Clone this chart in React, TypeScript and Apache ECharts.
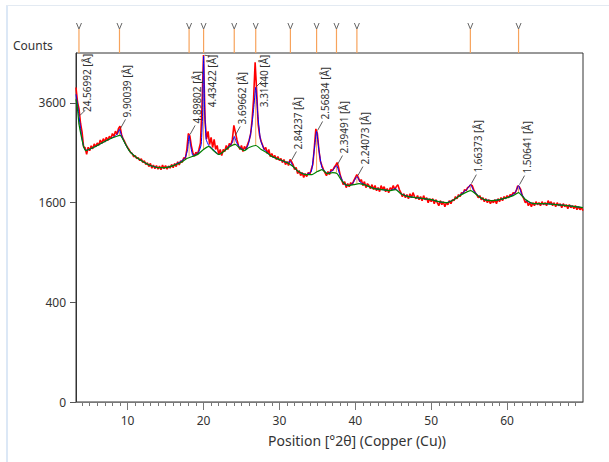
import React, { useEffect, useRef } from "react";
import * as echarts from "echarts";

// Observed counts (red), sampled every 0.2 °2θ starting at 3.2
const obsStart = 3.2;
const obsStep = 0.2;
const obsCounts = [
  3980, 3620, 3450, 3120, 2930, 2620, 2600, 2470, 2610, 2540,
  2640, 2580, 2680, 2620, 2700, 2650, 2760, 2690, 2790, 2720,
  2820, 2750, 2840, 2790, 2900, 2840, 2950, 2880, 3010, 3060,
  2880, 2790, 2730, 2660, 2606, 2560, 2504, 2484, 2420, 2440,
  2384, 2404, 2345, 2380, 2310, 2340, 2270, 2300, 2230, 2290,
  2200, 2260, 2190, 2250, 2180, 2240, 2170, 2260, 2190, 2250,
  2180, 2240, 2200, 2270, 2210, 2290, 2230, 2320, 2260, 2340,
  2310, 2400, 2380, 2560, 2900, 2850, 2640, 2500, 2430, 2510,
  2460, 2570, 2700, 3500, 4840, 3200, 2780, 2945, 2668, 2815,
  2606, 2773, 2565, 2647, 2464, 2565, 2444, 2565, 2524, 2648,
  2565, 2689, 2647, 2773, 3077, 2923, 2773, 2647, 2565, 2647,
  2524, 2627, 2565, 2668, 2750, 2879, 3200, 3700, 4645, 3900,
  3100, 2850, 2730, 2647, 2565, 2606, 2484, 2565, 2424, 2484,
  2404, 2444, 2365, 2424, 2345, 2384, 2307, 2365, 2268, 2326,
  2249, 2365, 2326, 2268, 2173, 2211, 2099, 2155, 2062, 2118,
  2026, 2099, 2044, 2118, 2080, 2173, 2268, 2600, 3000, 2900,
  2560, 2330, 2249, 2173, 2118, 2062, 2136, 2080, 2173, 2155,
  2211, 2249, 2307, 2211, 2080, 1990, 1901, 1954, 1849, 1918,
  1866, 1936, 1901, 1972, 2026, 2080, 2026, 1954, 1990, 1884,
  1954, 1849, 1918, 1884, 1832, 1901, 1815, 1884, 1797, 1849,
  1780, 1884, 1815, 1866, 1780, 1832, 1763, 1849, 1815, 1884,
  1815, 1866, 1901, 1815, 1763, 1697, 1746, 1680, 1730, 1663,
  1746, 1680, 1763, 1697, 1663, 1713, 1647, 1697, 1631, 1713,
  1647, 1680, 1598, 1663, 1614, 1663, 1582, 1647, 1598, 1551,
  1631, 1567, 1614, 1535, 1598, 1567, 1631, 1582, 1647, 1631,
  1697, 1663, 1730, 1697, 1763, 1746, 1815, 1797, 1849, 1866,
  1901, 1884, 1815, 1763, 1730, 1680, 1713, 1647, 1680, 1614,
  1663, 1598, 1647, 1582, 1631, 1598, 1647, 1582, 1663, 1614,
  1680, 1631, 1697, 1663, 1713, 1680, 1730, 1713, 1763, 1746,
  1797, 1880, 1860, 1815, 1713, 1663, 1598, 1631, 1551, 1598,
  1535, 1598, 1551, 1614, 1567, 1598, 1551, 1614, 1567, 1598,
  1551, 1631, 1582, 1614, 1551, 1598, 1535, 1598, 1551, 1582,
  1519, 1582, 1535, 1567, 1503, 1567, 1519, 1551, 1503, 1551,
  1488, 1535, 1488, 1519, 1472,
];

// Calculated profile (blue)
const calcPos = [
  3.2, 3.35, 3.6, 3.9, 4.2, 4.5, 5.5, 6.5, 7.5, 8.3, 8.7, 8.93, 9.2, 9.6, 10.2,
  11, 12, 13, 14, 15, 16, 17, 17.6, 17.9, 18.1, 18.3, 18.6, 19.0, 19.4, 19.7,
  19.9, 20.01, 20.15, 20.35, 20.7, 21.3, 22.0, 22.5, 23.2, 23.8, 24.05, 24.35,
  24.8, 25.4, 25.9, 26.3, 26.6, 26.88, 27.15, 27.5, 28.0, 29, 30, 31, 31.45,
  31.8, 32.5, 33.5, 34.2, 34.6, 34.9, 35.2, 35.6, 36.3, 37.0, 37.52, 38.0, 38.6,
  39.3, 39.8, 40.21, 40.7, 41.5, 42.5, 43.5, 44.5, 45.3, 46, 47, 48, 49, 50, 51,
  52, 53, 54, 54.8, 55.16, 55.6, 56.3, 57, 58, 59, 60, 60.8, 61.2, 61.51, 61.9,
  62.5, 63.5, 65, 66.5, 68, 70,
];
const calcCounts = [
  3808, 3636, 3281, 2879, 2627, 2544, 2606, 2688, 2773, 2837, 2901, 2989, 2858, 2709, 2544,
  2424, 2326, 2249, 2211, 2211, 2249, 2326, 2404, 2565, 2858, 2647, 2444, 2464, 2524, 2668,
  3445, 4810, 3445, 2773, 2647, 2565, 2464, 2504, 2606, 2709, 2837, 2709,
  2606, 2544, 2668, 2989, 3445, 3984, 3328, 2773, 2565, 2424, 2365, 2307, 2326,
  2230, 2136, 2080, 2136, 2565, 2945, 2565, 2211, 2099, 2155, 2249, 2062, 1901,
  1884, 1954, 2044, 1936, 1884, 1832, 1815, 1797, 1832, 1746, 1697, 1680, 1663, 1647, 1614,
  1598, 1647, 1746, 1832, 1901, 1797, 1697, 1647, 1631, 1647, 1680, 1730, 1797, 1884, 1746,
  1631, 1582, 1582, 1567, 1551, 1519,
];

// Background (green)
const bgPos = [
  3.2, 3.35, 3.6, 3.9, 4.2, 4.5, 5.5, 6.5, 7.5, 8.5, 9.0, 9.6, 10.2, 11, 12, 13, 14,
  15, 16, 17, 17.8, 18.5, 19.2, 20, 20.7, 21.3, 22, 22.8, 23.5, 24.2, 24.8, 25.4,
  26, 26.9, 27.6, 28.3, 29, 30, 31, 31.8, 32.5, 33.5, 34.3, 35, 35.6, 36.3, 37,
  37.6, 38.2, 39, 39.8, 40.5, 41.5, 42.5, 43.5, 44.5, 45.3, 46, 47, 48, 49, 50,
  51, 52, 53, 54, 55.2, 56.3, 57, 58, 59, 60, 60.8, 61.5, 62.3, 63.5, 65, 66.5, 68, 70,
];
const bgCounts = [
  3685, 3540, 3099, 2837, 2627, 2544, 2606, 2688, 2773, 2837, 2858, 2709, 2544, 2424, 2326, 2249, 2211,
  2211, 2249, 2307, 2384, 2424, 2464, 2565, 2627, 2544, 2464, 2544, 2627, 2668, 2585, 2544,
  2606, 2647, 2565, 2504, 2424, 2365, 2307, 2230, 2136, 2080, 2080, 2136, 2173, 2099, 2118,
  2099, 1972, 1884, 1901, 1918, 1884, 1832, 1815, 1797, 1815, 1746, 1697, 1680, 1663, 1647,
  1614, 1598, 1647, 1730, 1797, 1697, 1647, 1631, 1647, 1680, 1713, 1763, 1663, 1582, 1582, 1567, 1551, 1519,
];

// Peak list
const peakPos = [3.59, 8.93, 18.1, 20.01, 24.05, 26.88, 31.45, 34.9, 37.52, 40.21, 55.16, 61.51];
const peakD = ["24.56992", "9.90039", "4.89802", "4.43422", "3.69662", "3.31440", "2.84237", "2.56834", "2.39491", "2.24073", "1.66373", "1.50641"];
const peakTop = [3281, 2989, 2858, 4810, 2837, 3984, 2326, 2945, 2249, 2044, 1901, 1884];
const peakBase = [3099, 2858, 2424, 2565, 2668, 2647, 2307, 2136, 2118, 1918, 1797, 1763];

const xTicks = [10, 20, 30, 40, 50, 60];
const yTicks = [0, 400, 1600, 3600];

const FONT = "'Segoe UI', 'Noto Sans', sans-serif";

export default function App() {
  const ref = useRef<HTMLDivElement>(null);
  useEffect(() => {
    const chart = echarts.init(ref.current!, null, { renderer: "svg" });
    const sq = (v: number) => Math.sqrt(v);
    const obs = obsCounts.map((c, i) => [+(obsStart + i * obsStep).toFixed(2), sq(c)]);
    const calc = calcPos.map((p, i) => [p, sq(calcCounts[i])]);
    const bg = bgPos.map((p, i) => [p, sq(bgCounts[i])]);
    const sticks = peakPos.map((p, i) => [p, sq(peakBase[i]), sq(peakTop[i])]);
    const labels = peakPos.map((p, i) => [p, sq(peakTop[i])]);
    const minor: number[] = [];
    for (let t = 4; t <= 69; t++) if (t % 10 !== 0) minor.push(t);
    const xMin = 3.2, xMax = 70;

    chart.setOption({
      animation: false,
      backgroundColor: "#fff",
      grid: { left: 76, right: 26, top: 53, bottom: 60, show: true, borderColor: "#333", borderWidth: 1 },
      xAxis: [
        {
          type: "value", min: xMin, max: xMax,
          axisLine: { lineStyle: { color: "#777" } },
          axisTick: { customValues: xTicks, length: 8, lineStyle: { color: "#777" } },
          axisLabel: { customValues: xTicks, margin: 12, color: "#333", fontSize: 12, fontFamily: FONT },
          splitLine: { show: false },
        },
        {
          type: "value", min: xMin, max: xMax, position: "bottom",
          axisLine: { show: false },
          axisTick: { customValues: minor, length: 4, lineStyle: { color: "#777" } },
          axisLabel: { show: false },
          splitLine: { show: false },
        },
      ],
      yAxis: {
        type: "value", min: 0, max: 70,
        axisLine: { show: true, lineStyle: { color: "#333" } },
        axisTick: { show: true, customValues: yTicks.map(sq), length: 6, lineStyle: { color: "#555" } },
        axisLabel: {
          customValues: yTicks.map(sq), margin: 10, color: "#333", fontSize: 12, fontFamily: FONT,
          formatter: (v: number) => String(Math.round(v * v)),
        },
        splitLine: { show: false },
      },
      graphic: [
        { type: "rect", shape: { x: 6, y: 5, width: 2, height: 457 }, style: { fill: "#dce8f6" } },
        { type: "rect", shape: { x: 6, y: 5, width: 603, height: 1 }, style: { fill: "#e3eaf2" } },
        { type: "text", x: 13, y: 45, style: { text: "Counts", font: `12px ${FONT}`, fill: "#333", align: "left", verticalAlign: "middle" } },
        { type: "text", x: 357, y: 440, style: { text: "Position [°2θ] (Copper (Cu))", font: `14px ${FONT}`, fill: "#333", align: "center", verticalAlign: "middle" } },
      ],
      series: [
        {
          type: "line", data: obs, showSymbol: false, z: 2,
          lineStyle: { color: "#ff0000", width: 1.6 },
        },
        {
          type: "custom", data: sticks, z: 3, clip: false, encode: { x: 0, y: [1, 2] },
          renderItem: (params: any, api: any) => {
            const p0 = api.coord([api.value(0), api.value(1)]);
            const p1 = api.coord([api.value(0), api.value(2)]);
            const gt = params.coordSys.y;
            return {
              type: "group",
              children: [
                { type: "line", shape: { x1: p0[0], y1: p0[1], x2: p1[0], y2: p1[1] }, style: { stroke: "#f7a35c", lineWidth: 1 } },
                { type: "line", shape: { x1: p0[0], y1: gt, x2: p0[0], y2: gt - 24 }, style: { stroke: "#f7a35c", lineWidth: 1.2 } },
                { type: "polyline", shape: { points: [[p0[0] - 2.5, gt - 30], [p0[0], gt - 24], [p0[0] + 2.5, gt - 30]] }, style: { stroke: "#666", lineWidth: 1, fill: "none" } },
              ],
            };
          },
        },
        {
          type: "line", data: calc, showSymbol: false, z: 4, smooth: 0.15,
          lineStyle: { color: "#0000ff", width: 1 },
        },
        {
          type: "line", data: bg, showSymbol: false, z: 5, smooth: 0.2,
          lineStyle: { color: "#008000", width: 1.2 },
        },
        {
          type: "custom", data: labels, z: 6, clip: false, encode: { x: 0, y: 1 },
          renderItem: (params: any, api: any) => {
            const i = params.dataIndex;
            const p = api.coord([api.value(0), api.value(1)]);
            const gt = params.coordSys.y;
            const text = `${peakD[i]} [Å]`;
            const len = text.length * 4.75;
            const lx = p[0] + 8;
            let bottom = p[1] - 12;
            let clamped = false;
            if (bottom - len < gt + 2) { bottom = gt + 2 + len; clamped = true; }
            const ex = lx - 2;
            const ey = clamped ? Math.max(gt + 3, p[1] - 6) : bottom + 2;
            return {
              type: "group",
              children: [
                { type: "line", shape: { x1: p[0] + 1, y1: p[1] - 1, x2: ex, y2: ey }, style: { stroke: "#333", lineWidth: 0.8 } },
                {
                  type: "text", x: lx, y: bottom, rotation: Math.PI / 2,
                  style: { text, font: `10px ${FONT}`, fill: "#333", align: "left", verticalAlign: "middle" },
                },
              ],
            };
          },
        },
      ],
    });
    return () => chart.dispose();
  }, []);
  return <div ref={ref} style={{ position: "fixed", left: 0, top: 0, width: 609, height: 462, background: "#fff" }} />;
}
